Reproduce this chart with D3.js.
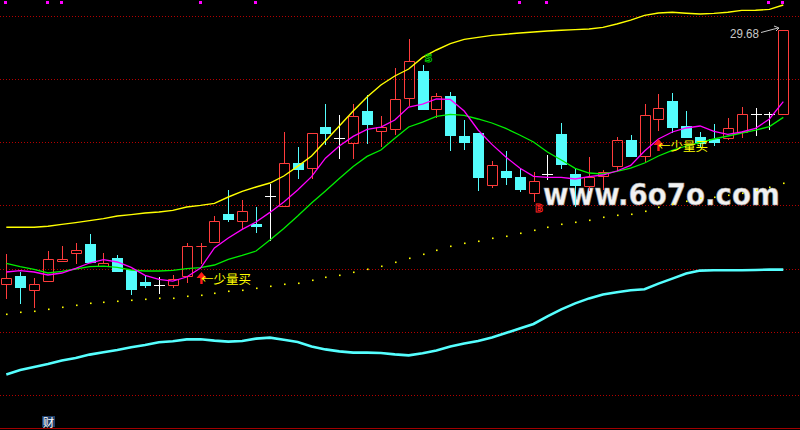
<!DOCTYPE html>
<html><head><meta charset="utf-8">
<script src="https://cdn.jsdelivr.net/npm/d3@7"></script>
<style>
html,body{margin:0;padding:0;background:#000;overflow:hidden}
svg{display:block}
</style></head><body>
<svg id="chart" width="800" height="430"></svg>
<script>
// ---- data (price units, one entry per trading day) ----
const opens = [16.97,17.38,16.67,17.12,18.11,18.52,18.98,17.86,18.28,17.66,
17.08,16.95,16.92,17.40,18.86,19.08,20.48,20.15,19.98,21.38,
20.87,23.03,22.77,24.83,24.27,24.02,25.63,24.65,24.75,26.30,
27.63,25.72,26.38,24.38,24.52,21.95,22.63,22.33,21.55,22.47,
24.48,22.47,21.87,22.40,22.87,24.17,23.38,25.22,26.13,24.88,
24.32,24.22,24.27,24.60,25.47,25.47,25.47];
const highs = [18.48,17.58,17.28,18.63,18.88,19.03,19.48,18.53,18.42,17.66,
17.37,17.33,17.43,19.03,19.03,20.38,21.68,21.18,20.83,21.98,
24.58,23.83,24.52,25.98,25.43,25.98,26.43,25.38,27.78,29.23,
27.95,26.55,26.58,25.18,24.52,23.13,23.63,22.77,22.58,23.42,
25.05,22.72,23.32,22.68,24.33,24.43,25.98,26.48,26.52,25.63,
24.60,24.98,25.27,25.82,25.77,25.57,29.68];
const lows = [16.30,16.05,15.85,17.12,18.11,18.05,18.07,17.86,17.65,16.50,
16.83,16.55,16.82,17.06,18.05,19.08,20.15,19.77,19.60,19.18,
20.87,22.30,22.28,23.97,23.30,23.30,24.05,23.90,24.47,25.93,
25.73,25.32,23.70,23.73,21.68,21.85,21.98,21.65,21.15,22.22,
22.77,20.88,21.70,21.73,22.68,23.38,23.10,24.68,24.60,24.35,
23.85,23.93,24.22,24.35,24.43,24.73,25.47];
const closes = [17.27,16.85,16.97,18.22,18.22,18.67,18.10,18.03,17.65,16.73,
16.93,16.95,17.22,18.88,18.89,20.13,20.22,20.62,19.90,21.38,
23.02,22.75,24.52,24.55,24.27,25.38,25.00,24.85,26.22,28.12,
25.73,26.37,24.43,24.10,22.35,22.92,22.35,21.75,22.12,22.47,
22.97,21.92,22.32,22.57,24.17,23.38,25.42,25.77,24.82,24.35,
24.02,24.08,24.77,25.47,25.47,25.47,29.67];
const ma5 = [17.58,17.65,17.58,17.43,17.53,17.76,18.03,18.20,18.08,17.81,
17.41,17.21,17.12,17.33,17.78,18.78,19.28,19.71,20.08,20.56,
21.08,21.68,22.35,23.27,23.88,24.36,24.71,24.82,25.18,25.83,
25.97,26.23,26.21,25.63,24.68,23.96,23.33,22.78,22.36,22.31,
22.31,22.23,22.35,22.43,22.63,22.91,23.63,24.23,24.58,24.78,
24.88,24.61,24.46,24.58,24.76,25.23,26.10];
const ma10 = [18.01,17.85,17.71,17.53,17.61,17.73,17.85,17.87,17.81,17.68,
17.63,17.63,17.66,17.75,17.80,17.93,18.21,18.41,18.63,19.18,
19.76,20.38,21.03,21.63,22.26,22.86,23.36,23.68,24.27,24.83,
25.07,25.36,25.46,25.41,25.23,25.03,24.76,24.43,24.08,23.58,
23.18,22.76,22.53,22.48,22.61,22.77,23.03,23.38,23.66,23.88,
24.06,24.23,24.38,24.53,24.67,24.85,25.31];
const upperLine = [19.82,19.82,19.82,19.87,19.96,20.05,20.15,20.25,20.38,20.45,
20.53,20.58,20.66,20.83,20.91,21.01,21.33,21.61,21.83,22.03,
22.38,22.86,23.38,24.13,24.88,25.63,26.33,26.93,27.38,27.73,
28.31,28.68,29.00,29.21,29.31,29.41,29.47,29.53,29.58,29.63,
29.67,29.70,29.73,29.81,29.98,30.17,30.41,30.53,30.57,30.52,
30.48,30.51,30.57,30.66,30.67,30.71,30.93];
const longDots = [15.47,15.57,15.62,15.72,15.82,15.92,16.02,16.07,16.12,16.17,
16.22,16.27,16.27,16.37,16.42,16.52,16.62,16.67,16.77,16.87,
16.97,17.02,17.17,17.32,17.42,17.57,17.72,17.87,18.07,18.27,
18.47,18.67,18.87,19.02,19.12,19.27,19.37,19.52,19.67,19.82,
19.97,20.07,20.17,20.32,20.42,20.47,20.62,20.82,20.97,21.12,
21.27,21.32,21.42,21.52,21.67,21.82,22.02];
const cyanLine = [12.46,12.68,12.83,12.98,13.16,13.28,13.45,13.57,13.68,13.82,
13.93,14.07,14.12,14.21,14.22,14.15,14.10,14.13,14.25,14.30,
14.19,14.08,13.85,13.71,13.61,13.55,13.55,13.53,13.46,13.41,
13.52,13.66,13.86,14.00,14.13,14.31,14.53,14.76,14.98,15.36,
15.71,16.01,16.26,16.46,16.57,16.67,16.72,17.00,17.25,17.50,
17.65,17.67,17.67,17.67,17.68,17.70,17.70];
const topMarks = [0,3,4,14,18,37,39,55,56];
const buySignals = [14,47];
const buyText = "←少量买";
const sMarks = [30];
const bMarks = [38];
const maxText = "29.68";
const cornerText = "财";
const watermarkText = "www.6o7o.com";

// ---- drawing ----
const W = 800, H = 430;
const svg = d3.select('#chart');
const x = d3.scaleLinear().domain([0, opens.length - 1]).range([6.3, 783.3]);
const y = d3.scaleLinear().domain([9.68, 31.18]).range([430, 0]);
const px = i => Math.round(x(i));
const py = v => Math.round(y(v));
const idx = d3.range(opens.length);

const RED = '#ff3c3c', CYAN = '#54fcfc';

svg.append('rect').attr('width', W).attr('height', H).attr('fill', '#000');

// grid rows
const gridRows = d3.range(7).map(k => Math.floor(16 + 63.3 * k) + 0.5);
svg.append('g').selectAll('line').data(gridRows).join('line')
  .attr('x1', 0).attr('x2', W).attr('y1', d => d).attr('y2', d => d)
  .attr('stroke', '#b40000').attr('stroke-dasharray', '1,2');
svg.append('line').attr('x1', 0).attr('x2', W).attr('y1', 428.5).attr('y2', 428.5)
  .attr('stroke', '#a00000');

// watermark (scaled horizontally to its footprint)
const wm = svg.append('g');
const wmText = wm.append('text').attr('x', 0).attr('y', 0)
  .attr('font-family', 'DejaVu Sans').attr('font-weight', 'bold').attr('font-size', 31)
  .attr('fill', '#f2f2f2').attr('stroke', '#9a9a9a').attr('stroke-width', 0.6)
  .text(watermarkText);
const natW = wmText.node().getComputedTextLength() || 271;
wm.attr('transform', `translate(543,205) scale(${237 / natW},1)`);

// candles
const cg = svg.append('g');
idx.forEach(i => {
  const c = px(i), o = py(opens[i]), cl = py(closes[i]), h = py(highs[i]), l = py(lows[i]);
  const g = cg.append('g');
  if (closes[i] === opens[i]) {
    g.append('line').attr('x1', c + 0.5).attr('x2', c + 0.5).attr('y1', h).attr('y2', l + 1).attr('stroke', '#fff');
    g.append('line').attr('x1', c - 5).attr('x2', c + 6).attr('y1', o + 0.5).attr('y2', o + 0.5).attr('stroke', '#fff');
  } else if (closes[i] > opens[i]) {
    const top = cl, bot = o;
    if (h < top) g.append('line').attr('x1', c + 0.5).attr('x2', c + 0.5).attr('y1', h).attr('y2', top).attr('stroke', RED);
    if (l > bot) g.append('line').attr('x1', c + 0.5).attr('x2', c + 0.5).attr('y1', bot).attr('y2', l + 1).attr('stroke', RED);
    g.append('path').attr('d', `M${c - 4.5},${top + 0.5}H${c + 5.5}V${bot + 0.5}H${c - 4.5}Z`)
      .attr('fill', 'none').attr('stroke', RED);
  } else {
    const top = o, bot = cl;
    g.append('line').attr('x1', c + 0.5).attr('x2', c + 0.5).attr('y1', h).attr('y2', l + 1).attr('stroke', CYAN);
    g.append('rect').attr('x', c - 5).attr('y', top).attr('width', 11).attr('height', Math.max(1, bot - top + 1))
      .attr('fill', CYAN);
  }
});

// long MA dots
svg.append('g').selectAll('rect').data(idx).join('rect')
  .attr('x', i => px(i)).attr('y', i => py(longDots[i]) - 0.5).attr('width', 1.6).attr('height', 1.6)
  .attr('fill', '#ffff00');

// lines
function drawLine(vals, color, w) {
  svg.append('path').datum(idx)
    .attr('d', d3.line().x(i => x(i)).y(i => y(vals[i])))
    .attr('fill', 'none').attr('stroke', color).attr('stroke-width', w);
}
drawLine(cyanLine, '#55ffff', 2.6);
drawLine(upperLine, '#ffff00', 1.4);
drawLine(ma10, '#00ee00', 1.3);
drawLine(ma5, '#ff00ff', 1.3);

// top magenta marks
svg.append('g').selectAll('rect').data(topMarks).join('rect')
  .attr('x', i => px(i) - 2).attr('y', 1).attr('width', 3).attr('height', 3).attr('fill', '#ff00ff');

// buy signals
const bs = svg.append('g');
buySignals.forEach(i => {
  const c = px(i) + 0.5, tip = py(lows[i]) + 9;
  bs.append('path').attr('d', `M${c},${tip}L${c + 5},${tip + 6}H${c + 1.2}V${tip + 12}H${c - 1.2}V${tip + 6}H${c - 5}Z`)
    .attr('fill', '#ff1a1a');
  bs.append('text').attr('x', c - 0.5).attr('y', tip + 6).attr('dominant-baseline', 'central')
    .attr('font-family', 'Noto Sans CJK SC').attr('font-size', 12.5).attr('fill', '#ffff00')
    .text(buyText);
});

// S / B markers
sMarks.forEach(i => {
  svg.append('text').attr('x', px(i) + 1.5).attr('y', py(highs[i]) - 3)
    .attr('font-family', 'DejaVu Sans').attr('font-size', 11).attr('font-weight', 'bold')
    .attr('fill', 'none').attr('stroke', '#00d000').attr('stroke-width', 0.9).text('S');
});
bMarks.forEach(i => {
  svg.append('text').attr('x', px(i) + 1).attr('y', py(lows[i]) + 11)
    .attr('font-family', 'DejaVu Sans').attr('font-size', 10.5).attr('font-weight', 'bold')
    .attr('fill', 'none').attr('stroke', '#ff2020').attr('stroke-width', 0.9).text('B');
});

// max price label
const last = opens.length - 1;
const mx = px(last), my = py(highs[last]);
svg.append('text').attr('x', mx - 24).attr('y', my + 7.5).attr('text-anchor', 'end')
  .attr('font-family', 'Liberation Sans').attr('font-size', 12.5).attr('fill', '#c8c8c8')
  .attr('textLength', 29).attr('lengthAdjust', 'spacingAndGlyphs')
  .text(maxText);
svg.append('path').attr('d', `M${mx - 22},${my + 2.5}L${mx - 5},${my - 2}M${mx - 9},${my - 4}L${mx - 4},${my - 2}L${mx - 7},${my + 1}`)
  .attr('fill', 'none').attr('stroke', '#c8c8c8').attr('stroke-width', 1);

// corner label
svg.append('rect').attr('x', 42).attr('y', 416).attr('width', 13).attr('height', 11).attr('fill', '#1f3f6a');
svg.append('text').attr('x', 48.5).attr('y', 421.8).attr('text-anchor', 'middle').attr('dominant-baseline', 'central')
  .attr('font-family', 'Noto Sans CJK SC').attr('font-size', 11.5).attr('fill', '#fff').text(cornerText);
</script>
</body></html>
